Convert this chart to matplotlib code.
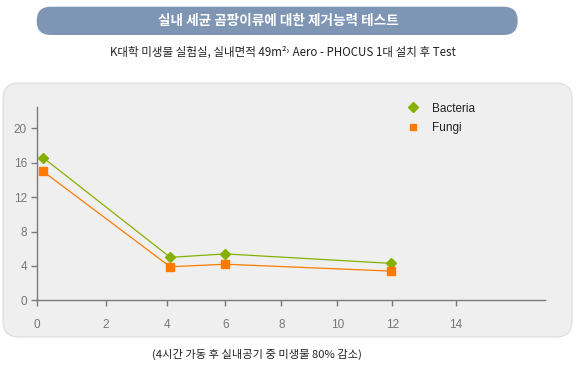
import numpy as np
import matplotlib
matplotlib.use("Agg")
import matplotlib.pyplot as plt
from matplotlib.patches import FancyBboxPatch
from matplotlib.lines import Line2D

# ---- data ----
hours = [0.17, 4.1, 6.0, 11.95]
bacteria = [16.6, 5.0, 5.4, 4.3]
fungi = [15.0, 3.9, 4.2, 3.4]
series_names = ["Bacteria", "Fungi"]
x_ticks = [0, 2, 4, 6, 8, 10, 12, 14]
y_ticks = [0, 4, 8, 12, 16, 20]
title = "실내 세균 곰팡이류에 대한 제거능력 테스트"
subtitle = "K대학 미생물 실험실, 실내면적 49m²˒ Aero - PHOCUS 1대 설치 후 Test"
footer = "(4시간 가동 후 실내공기 중 미생물 80% 감소)"

# ---- layout: irregular x tick spacing of the reference (pixel positions) ----
x_knots = [-10, 0, 2, 4, 6, 8, 10, 12, 14, 30]
x_knot_px = [-304.7, 37.3, 105.7, 167.3, 225.3, 281.3, 337.3, 392.3, 455.7, 962.9]

def fwd(x):
    return np.interp(x, x_knots, x_knot_px)

def inv(p):
    return np.interp(p, x_knot_px, x_knots)

GREEN = "#86B000"
ORANGE = "#FF7A00"
GRAY = "#7A7A7A"
KFONT = ["Noto Sans CJK KR", "DejaVu Sans"]
NUMFONT = ["Liberation Sans Narrow", "Liberation Sans", "DejaVu Sans"]

fig = plt.figure(figsize=(5.76, 3.71), dpi=100)
fig.patch.set_facecolor("white")

# panel background
panel = FancyBboxPatch((0.03, 0.34), 5.69, 2.54,
                       boxstyle="round,pad=0,rounding_size=0.16",
                       transform=fig.dpi_scale_trans,
                       facecolor="#EFEFEF", edgecolor="#DCDCDC", lw=0.8, zorder=0)
fig.add_artist(panel)

# title banner
banner = FancyBboxPatch((0.367, 3.36), 4.81, 0.283,
                        boxstyle="round,pad=0,rounding_size=0.14",
                        transform=fig.dpi_scale_trans,
                        facecolor="#7E95B4", edgecolor="none", zorder=1)
fig.add_artist(banner)
fig.text(278 / 576, 1 - 21 / 371, title, color="white", fontsize=9.8,
         fontweight="bold", family=KFONT, ha="center", va="center")
fig.text(283 / 576, 1 - 52 / 371, subtitle, color="#222222", fontsize=8.3,
         family=KFONT, ha="center", va="center")
fig.text(257 / 576, 1 - 354 / 371, footer, color="#222222", fontsize=8.1,
         family=KFONT, ha="center", va="center")

ax = fig.add_axes([37.3 / 576, 1 - 300.3 / 371, (545 - 37.3) / 576, (300.3 - 107) / 371])
ax.set_facecolor("none")
ax.set_xscale("function", functions=(fwd, inv))
ax.set_xlim(0, 14 + (545 - 455.7) / 31.7)
ax.set_ylim(0, 22.5)

ax.plot(hours, bacteria, color=GREEN, lw=0.9, marker="D", markersize=5.5,
        markeredgecolor=GREEN, zorder=3)
ax.plot(hours, fungi, color=ORANGE, lw=0.9, marker="s", markersize=5.6,
        markeredgecolor=ORANGE, zorder=3)

ax.set_xticks(x_ticks)
ax.set_xticklabels([str(t) for t in x_ticks])
ax.set_yticks(y_ticks)
ax.set_yticklabels([str(t) for t in y_ticks])
ax.xaxis.set_minor_locator(matplotlib.ticker.NullLocator())
for s in ["top", "right"]:
    ax.spines[s].set_visible(False)
for s in ["left", "bottom"]:
    ax.spines[s].set_color(GRAY)
    ax.spines[s].set_linewidth(1.0)
ax.tick_params(axis="both", colors=GRAY, length=4.5, width=1.0, labelsize=8.5,
               labelcolor="#777777")
ax.tick_params(axis="x", pad=9)
ax.tick_params(axis="y", pad=3)
for lab in ax.get_xticklabels() + ax.get_yticklabels():
    lab.set_family(NUMFONT)

handles = [Line2D([], [], color=GREEN, marker="D", linestyle="None", markersize=4.8),
           Line2D([], [], color=ORANGE, marker="s", linestyle="None", markersize=5)]
leg = ax.legend(handles, series_names, loc="upper left",
                bbox_to_anchor=(395 / 576, 1 - 92 / 371), bbox_transform=fig.transFigure,
                frameon=False, handlelength=1.2, handletextpad=1.0, labelspacing=0.6,
                prop={"family": NUMFONT, "size": 8.5})
for t in leg.get_texts():
    t.set_color("#222222")

fig.savefig("out.png", dpi=100)
